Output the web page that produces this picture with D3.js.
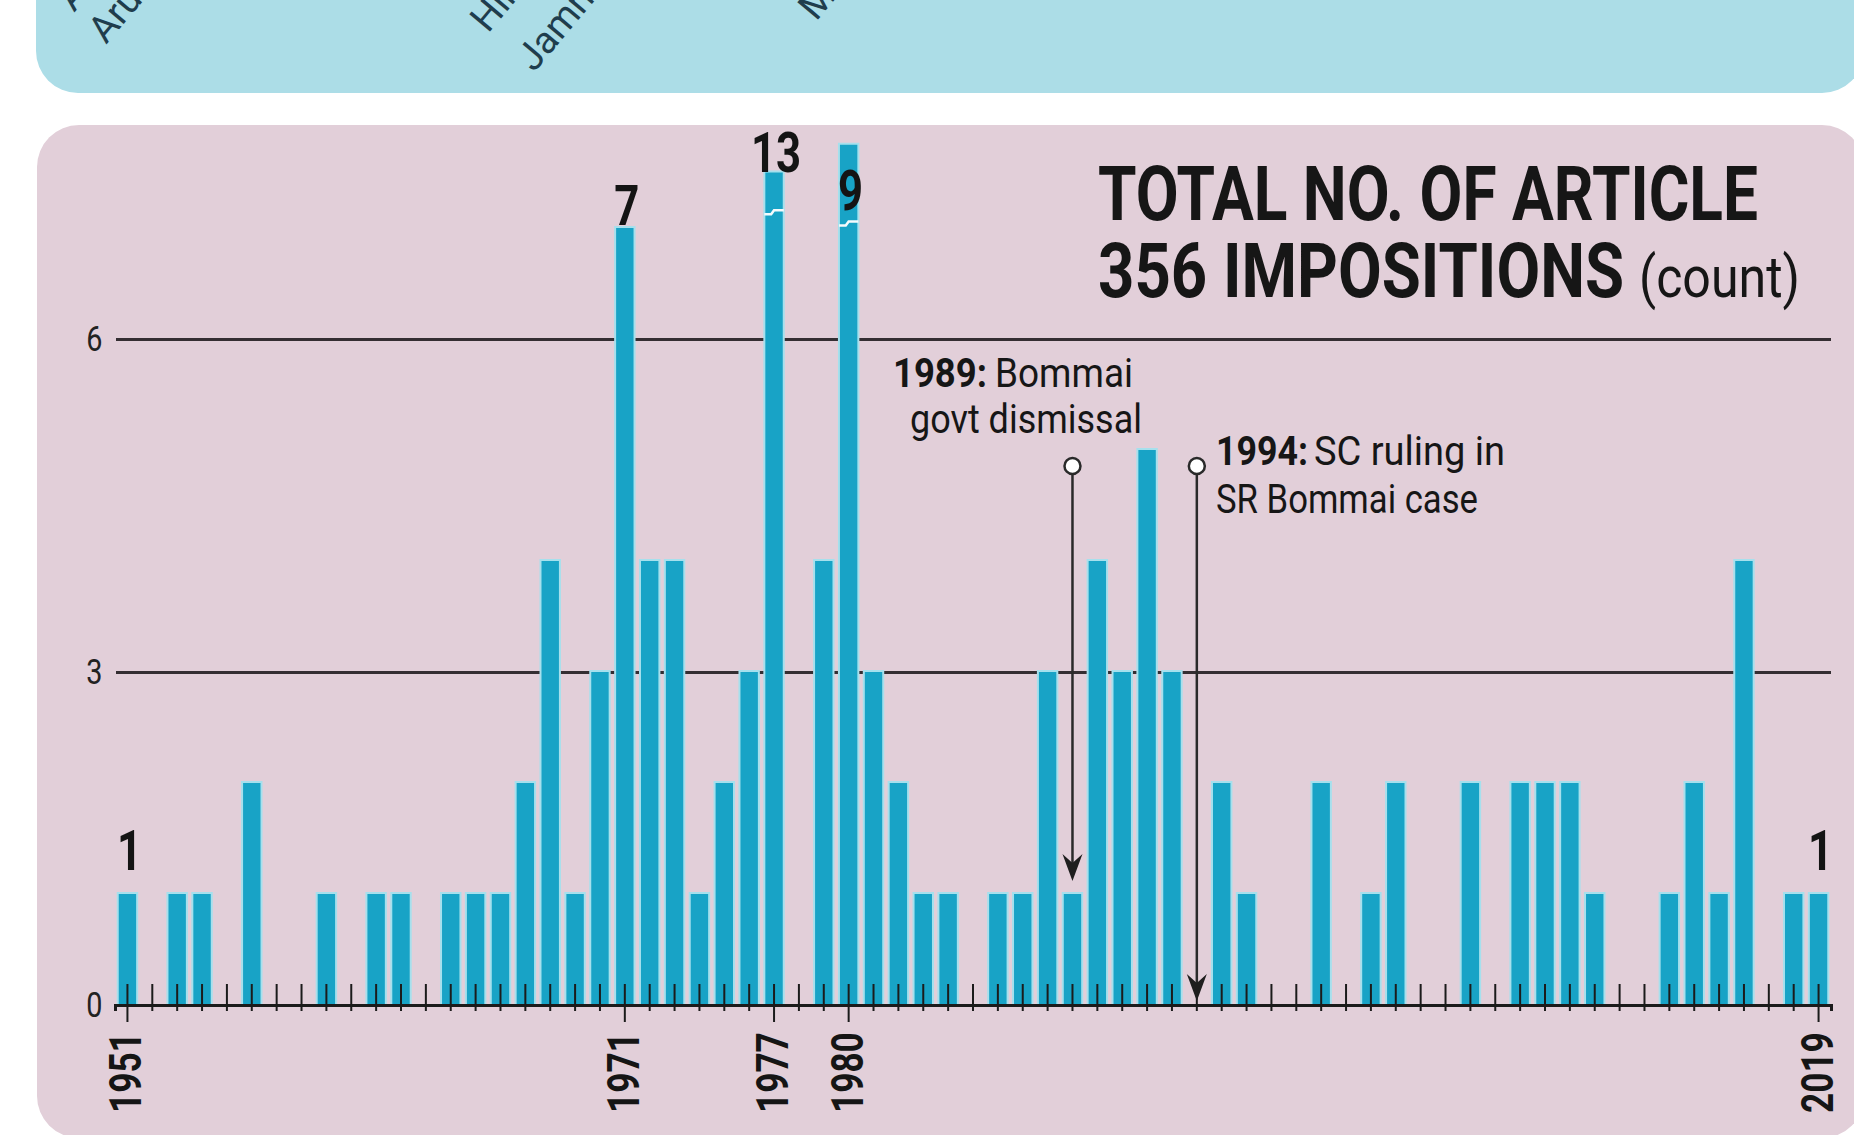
<!DOCTYPE html>
<html>
<head>
<meta charset="utf-8">
<script src="https://cdn.jsdelivr.net/npm/d3@7"></script>
<style>
  body { margin: 0; background: #fff; }
  svg { display: block; }
  text { font-family: Roboto, "Open Sans", sans-serif; }
</style>
</head>
<body>
<script>
// Global variable
const w = 1854;
const h = 1135;

// Article 356 impositions per year
const years = [1951, 1952, 1953, 1954, 1955, 1956, 1957, 1958, 1959, 1960,
               1961, 1962, 1963, 1964, 1965, 1966, 1967, 1968, 1969, 1970,
               1971, 1972, 1973, 1974, 1975, 1976, 1977, 1978, 1979, 1980,
               1981, 1982, 1983, 1984, 1985, 1986, 1987, 1988, 1989, 1990,
               1991, 1992, 1993, 1994, 1995, 1996, 1997, 1998, 1999, 2000,
               2001, 2002, 2003, 2004, 2005, 2006, 2007, 2008, 2009, 2010,
               2011, 2012, 2013, 2014, 2015, 2016, 2017, 2018, 2019];
const counts = [1, 0, 1, 1, 0, 2, 0, 0, 1, 0,
                1, 1, 0, 1, 1, 1, 2, 4, 1, 3,
                7, 4, 4, 1, 2, 3, 13, 0, 4, 9,
                3, 2, 1, 1, 0, 1, 1, 3, 1, 4,
                3, 5, 3, 0, 2, 1, 0, 0, 2, 0,
                1, 2, 0, 0, 2, 0, 2, 2, 2, 1,
                0, 0, 1, 2, 1, 4, 0, 1, 1];

const yTicks = [0, 3, 6];
const labeledYears = [1951, 1971, 1977, 1980, 2019];
const valueLabelYears = [1951, 1971, 1977, 1980, 2019];

// bars that run off the scale are cut with a break mark
const brokenYears = [1977, 1980];
const brokenShownTo = [7.5, 7.75];
const brokenBreakAt = [7.15, 7.05];

// event annotations
const eventYears = [1989, 1994];

// state names peeking out of the panel above
const topLabels = ["Andhra Pradesh", "Arunachal Pradesh", "Himachal Pradesh", "Jammu & Kashmir", "Madhya Pradesh"];

const dataset = years.map((yr, i) => ({ year: yr, value: counts[i] }));

//Create SVG element
let svg = d3.select("body")
            .append("svg")
                .attr("width", w)
                .attr("height", h);

// background panels
svg.append("rect")
    .attr("x", 36).attr("y", -80)
    .attr("width", 1828).attr("height", 173)
    .attr("rx", 42)
    .attr("fill", "#acdde7");

svg.append("rect")
    .attr("x", 37).attr("y", 125)
    .attr("width", 1827).attr("height", 1013)
    .attr("rx", 42)
    .attr("fill", "#e2cfd9");

// cut-off labels of the upper chart
const topPos = [[74, 13], [106, 45], [488, 34], [534, 73], [816, 22]];
svg.append("g")
    .selectAll("text")
    .data(topLabels)
    .enter()
    .append("text")
    .attr("transform", (d, i) => "translate(" + topPos[i][0] + "," + topPos[i][1] + ") rotate(-50)")
    .attr("font-size", 38)
    .attr("fill", "#1f3d4d")
    .text(d => d);

// scales
const x = d3.scaleBand()
    .domain(years)
    .range([115, 1831])
    .paddingInner(0.3)
    .paddingOuter(0.15);

const y = d3.scaleLinear()
    .domain([0, 6])
    .range([1005, 339]);

const bw = x.bandwidth();
const cx = (yr) => x(yr) + bw / 2;

function shownValue(d) {
    const k = brokenYears.indexOf(d.year);
    return k >= 0 ? brokenShownTo[k] : d.value;
}

// grid lines (y axis)
const yAxis = d3.axisLeft(y)
    .tickValues(yTicks)
    .tickFormat(d3.format("d"))
    .tickSize(-(1831 - 116))
    .tickPadding(17);

const gy = svg.append("g")
    .attr("transform", "translate(116,0)")
    .call(yAxis);
gy.select(".domain").remove();
gy.selectAll("line")
    .attr("stroke", "#342e32")
    .attr("stroke-width", 3);
gy.selectAll("text")
    .attr("font-size", 36)
    .attr("fill", "#222")
    .attr("transform", "scale(0.8,1)");

// bars
const bars = dataset.filter(d => d.value > 0);

svg.append("g")
    .selectAll("rect")
    .data(bars)
    .enter()
    .append("rect")
    .attr("x", d => x(d.year) - 2)
    .attr("y", d => y(shownValue(d)) - 2)
    .attr("width", bw + 4)
    .attr("height", d => y(0) - y(shownValue(d)) + 2)
    .attr("fill", "#a6e0ed");

svg.append("g")
    .selectAll("rect")
    .data(bars)
    .enter()
    .append("rect")
    .attr("x", d => x(d.year))
    .attr("y", d => y(shownValue(d)))
    .attr("width", bw)
    .attr("height", d => y(0) - y(shownValue(d)))
    .attr("fill", "#18a3c6");

// break marks
svg.append("g")
    .selectAll("path")
    .data(brokenYears)
    .enter()
    .append("path")
    .attr("d", (d, i) => {
        const yb = y(brokenBreakAt[i]);
        const x0 = x(d);
        return "M" + (x0 - 1) + "," + (yb + 3) +
               "L" + (x0 + bw / 3) + "," + (yb + 3) +
               "L" + (x0 + bw / 2) + "," + (yb - 1) +
               "L" + (x0 + bw + 1) + "," + (yb - 1);
    })
    .attr("fill", "none")
    .attr("stroke", "#f4fbfd")
    .attr("stroke-width", 2.5);

// x axis
const xAxis = d3.axisBottom(x)
    .tickSizeOuter(0)
    .tickSize(6)
    .tickFormat(d => labeledYears.includes(d) ? d : "");

const gx = svg.append("g")
    .attr("transform", "translate(0," + y(0) + ")")
    .call(xAxis);
gx.select(".domain")
    .attr("stroke", "#1b1b1b")
    .attr("stroke-width", 3);
gx.selectAll("line")
    .attr("stroke", "#1b1b1b")
    .attr("stroke-width", 2)
    .attr("y1", -21)
    .attr("y2", d => labeledYears.includes(d) ? 17 : 6);
gx.selectAll("text")
    .attr("font-size", 44)
    .attr("font-weight", 700)
    .attr("fill", "#151515")
    .attr("text-anchor", "end")
    .attr("transform", "rotate(-90) scale(0.8,1)")
    .attr("x", -34)
    .attr("y", 14)
    .attr("dy", 0);

// value labels
const labelOffset = { 1951: -24, 1971: -3, 1977: -1, 1980: 65, 2019: -24 };
svg.append("g")
    .selectAll("text")
    .data(dataset.filter(d => valueLabelYears.includes(d.year)))
    .enter()
    .append("text")
    .attr("transform", d => "translate(" + (cx(d.year) + 2) + "," + (y(shownValue(d)) + labelOffset[d.year]) + ") scale(0.78,1)")
    .attr("text-anchor", "middle")
    .attr("font-size", 56)
    .attr("font-weight", 700)
    .attr("fill", "#141414")
    .text(d => d.value);

// event markers
const ev = svg.append("g");
eventYears.forEach((yr) => {
    const px = cx(yr);
    const d = dataset.find(r => r.year === yr);
    const tip = d.value > 0 ? y(d.value) - 13 : y(0) - 4;
    ev.append("line")
        .attr("x1", px).attr("x2", px)
        .attr("y1", 474).attr("y2", tip - 16)
        .attr("stroke", "#2a2a2a")
        .attr("stroke-width", 2.5);
    ev.append("path")
        .attr("d", "M" + px + "," + tip + "L" + (px - 10) + "," + (tip - 27) +
                   "L" + px + "," + (tip - 18) + "L" + (px + 10) + "," + (tip - 27) + "Z")
        .attr("fill", "#1e1e1e");
    ev.append("circle")
        .attr("cx", px).attr("cy", 466)
        .attr("r", 8)
        .attr("fill", "#fff")
        .attr("stroke", "#2a2a2a")
        .attr("stroke-width", 2.5);
});

// texts squeezed to the widths seen in the picture
function addText(str, tx, ty, size, weight, len) {
    svg.append("text")
        .attr("x", tx)
        .attr("y", ty)
        .attr("font-size", size)
        .attr("font-weight", weight)
        .attr("fill", "#161616")
        .attr("textLength", len)
        .attr("lengthAdjust", "spacingAndGlyphs")
        .text(str);
}

addText("1989:", 893, 387, 40, 700, 94);
addText("Bommai", 995, 387, 40, 400, 138);
addText("govt dismissal", 910, 433, 40, 400, 232);
addText("1994:", 1216, 465, 40, 700, 92);
addText("SC ruling in", 1314, 465, 40, 400, 191);
addText("SR Bommai case", 1216, 513, 40, 400, 262);

// title
addText("TOTAL NO. OF ARTICLE", 1098, 220, 76, 700, 660);
addText("356 IMPOSITIONS", 1098, 297, 76, 700, 526);
addText("(count)", 1639, 297, 58, 400, 161);
</script>
</body>
</html>
